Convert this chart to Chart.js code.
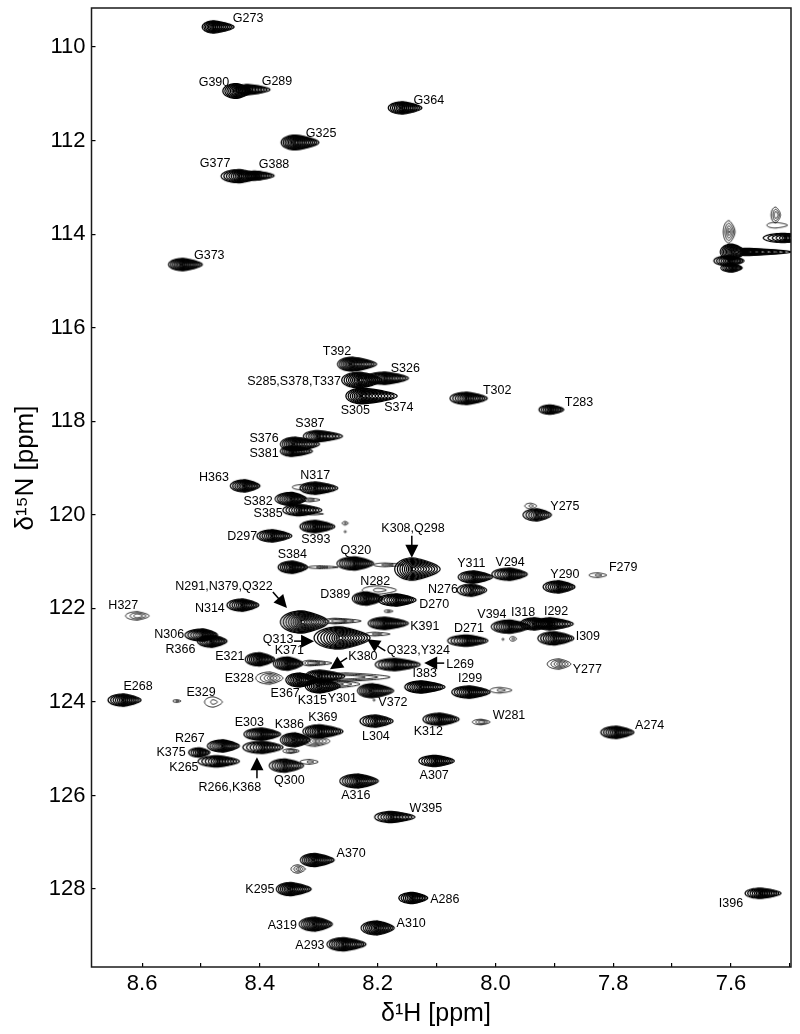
<!DOCTYPE html>
<html><head><meta charset="utf-8">
<style>html,body{margin:0;padding:0;background:#fff}canvas{display:block}</style>
<script src="https://cdn.jsdelivr.net/npm/chart.js@4"></script>
</head><body><canvas id="c" width="800" height="1034"></canvas>
<script>
// Peak positions (ppm), one-sided line widths (ppm) and number of contour levels
const peakH=[8.478,8.439,8.420,8.339,8.434,8.408,8.530,8.157,7.576,7.598,
7.602,7.598,7.603,7.508,7.524,7.524,8.243,8.230,8.187,8.225,
8.301,8.340,8.345,8.425,8.305,8.323,8.345,8.315,8.332,8.306,
8.305,8.255,8.255,8.378,8.344,8.298,8.238,8.187,8.140,8.036,
7.975,8.040,7.929,7.940,7.892,7.826,7.975,7.933,7.907,7.899,
8.047,7.987,7.970,7.892,8.043,7.992,8.199,8.218,8.167,8.182,
8.328,8.272,8.187,8.264,8.204,8.400,8.352,8.315,8.383,8.332,
8.298,8.298,8.255,8.281,8.209,8.125,8.170,8.203,8.094,8.024,
8.101,8.608,8.496,8.481,8.429,8.631,8.479,8.541,8.396,8.395,
8.340,8.298,8.306,8.347,8.357,8.315,8.462,8.502,8.471,8.233,
8.176,8.306,8.335,8.347,8.140,7.549,8.306,8.201,8.257,8.048,7.906,7.794,8.206];
const peakN=[109.57,110.94,110.91,112.04,112.76,112.75,114.65,111.30,114.38,114.38,
114.57,114.72,113.95,114.08,113.59,113.81,116.78,117.12,117.08,117.46,
118.32,118.49,118.64,119.38,119.43,119.41,119.66,119.68,119.90,119.98,
120.25,120.18,120.36,120.45,121.12,121.12,121.04,121.07,121.16,121.33,
121.27,121.61,120.00,119.81,121.54,121.29,122.39,122.33,122.33,122.64,
122.69,122.66,122.65,123.19,123.79,123.75,121.61,121.79,121.82,122.06,
122.29,122.27,122.32,122.63,122.55,123.09,123.18,123.17,123.49,123.53,
123.45,123.66,123.47,123.62,123.76,123.68,123.20,124.41,124.37,124.43,
125.26,122.16,122.57,122.70,121.93,123.96,124.00,123.98,124.69,124.97,
124.81,124.63,124.84,125.05,125.36,125.28,124.94,125.08,125.27,125.69,
126.46,127.38,127.57,128.00,128.19,128.09,128.75,128.83,129.18,117.51,117.75,124.65,123.96];
const peakWidthLeft=[.020,.024,.020,.025,.032,.017,.025,.025,.008,.020,
.027,.019,.010,.037,.008,.015,.025,.031,.034,.029,
.025,.025,.020,.025,.027,.022,.029,.014,.029,.017,
.027,.005,.002,.027,.025,.020,.031,.020,.031,.027,
.031,.025,.024,.010,.027,.015,.032,.025,.024,.029,
.034,.002,.006,.020,.031,.017,.027,.025,.032,.007,
.037,.020,.029,.044,.017,.025,.025,.014,.024,.024,
.025,.025,.025,.017,.025,.029,.034,.027,.029,.015,
.029,.020,.031,.025,.027,.027,.015,.007,.031,.034,
.025,.029,.022,.014,.027,.017,.027,.019,.034,.031,
.029,.025,.012,.025,.024,.027,.027,.027,.029,.029,.020,.027,.002];
const peakWidthRight=[.034,.024,.037,.039,.034,.032,.032,.032,.078,.022,
.024,.017,.010,.034,.008,.020,.041,.037,.039,.058,
.041,.041,.034,.025,.037,.022,.024,.017,.037,.014,
.032,.005,.002,.032,.025,.031,.031,.031,.046,.031,
.029,.025,.024,.010,.027,.015,.034,.034,.039,.032,
.034,.002,.006,.020,.034,.020,.031,.027,.032,.008,
.044,.044,.039,.051,.025,.025,.025,.037,.022,.031,
.042,.034,.076,.051,.036,.039,.042,.029,.032,.015,
.031,.020,.024,.025,.027,.029,.015,.007,.031,.034,
.025,.039,.025,.014,.031,.014,.027,.017,.036,.034,
.039,.032,.012,.034,.025,.034,.029,.029,.037,.034,.022,.029,.002];
const peakWidthN=[.13,.16,.11,.16,.14,.10,.13,.13,.08,.17,
.11,.09,.24,.10,.17,.06,.15,.17,.13,.17,
.12,.15,.11,.13,.13,.06,.14,.04,.12,.02,
.13,.04,.02,.13,.13,.03,.14,.04,.24,.13,
.13,.13,.13,.06,.13,.05,.14,.13,.13,.14,
.12,.02,.05,.11,.13,.06,.09,.14,.13,.03,
.24,.06,.13,.24,.04,.14,.14,.06,.13,.15,
.13,.15,.09,.09,.15,.13,.13,.13,.13,.06,
.12,.09,.13,.13,.13,.13,.11,.03,.13,.13,
.15,.14,.11,.05,.14,.05,.13,.10,.12,.15,
.12,.14,.09,.14,.12,.11,.15,.15,.14,.13,.10,.13,.02];
const peakLevels=[10,10,8,11,10,8,10,10,8,10,
9,8,5,7,3,1,10,11,9,11,
8,10,8,9,9,2,10,2,8,1,
10,2,1,9,10,2,10,2,10,9,
9,7,7,2,9,2,10,9,9,9,
9,1,2,5,10,2,2,10,9,2,
11,3,10,11,2,10,10,3,5,10,
9,10,3,3,10,10,9,8,9,3,
9,3,9,9,9,9,2,2,10,8,
10,10,5,3,8,2,9,7,8,10,
8,10,4,10,9,9,10,10,10,9,8,9,1];

// Assignment labels
const labelText=["G273","G390","G289","G325","G377","G388","G373","G364","T392","S326",
"S285,S378,T337","S305","S374","S387","S376","S381","H363","N317","S382","S385",
"D297","S393","S384","Q320","K308,Q298","Y311","V294","N282","D389","D270",
"N276","K391","D271","Q313","Q323,Y324","L269","K380","I383","I299","K371",
"E367","K315","Y301","V372","K369","K386","L304","K312","N291,N379,Q322","H327",
"N314","N306","R366","E321","E328","E268","E329","E303","R267","K375",
"K265","R266,K368","Q300","Y275","Y290","F279","V394","I318","I292","I309",
"Y277","W281","T302","T283","A274","A307","A316","W395","A370","K295",
"A286","I396","A319","A310","A293"];
const labelH=[8.420,8.478,8.371,8.296,8.476,8.376,8.486,8.113,8.269,8.153,
8.342,8.238,8.164,8.315,8.393,8.393,8.478,8.306,8.403,8.386,
8.430,8.305,8.345,8.237,8.140,8.041,7.975,8.204,8.272,8.104,
8.089,8.120,8.045,8.369,8.131,8.060,8.225,8.120,8.043,8.350,
8.357,8.311,8.260,8.174,8.293,8.350,8.203,8.114,8.461,8.632,
8.485,8.554,8.535,8.451,8.435,8.607,8.500,8.418,8.519,8.551,
8.529,8.451,8.350,7.882,7.882,7.783,8.006,7.953,7.897,7.843,
7.844,7.977,7.997,7.858,7.738,8.104,8.237,8.118,8.245,8.400,
8.086,7.600,8.362,8.143,8.315];
const labelN=[109.40,110.75,110.73,111.84,112.50,112.52,114.45,111.15,116.50,116.88,
117.16,117.78,117.70,118.04,118.38,118.68,119.21,119.15,119.71,119.98,
120.47,120.52,120.84,120.77,120.30,121.05,121.01,121.42,121.71,121.91,
121.59,122.38,122.44,122.66,122.91,123.19,123.04,123.40,123.51,122.91,
123.83,123.98,123.92,124.02,124.34,124.49,124.73,124.64,121.54,121.95,
122.01,122.55,122.87,123.02,123.51,123.68,123.79,124.43,124.79,125.09,
125.41,125.84,125.69,119.83,121.27,121.12,122.14,122.08,122.06,122.61,
123.30,124.30,117.35,117.61,124.51,125.58,126.01,126.27,127.25,128.02,
128.23,128.30,128.77,128.73,129.20];

// Arrows pointing at crowded peaks: tail and tip in ppm
const arrowTailH=[8.142,8.378,8.342,8.187,8.252,8.087,8.405];
const arrowTailN=[120.45,121.65,122.70,122.91,123.06,123.17,125.63];
const arrowTipH=[8.142,8.354,8.308,8.218,8.281,8.121,8.405];
const arrowTipN=[120.92,121.99,122.70,122.66,123.30,123.17,125.18];

const xTickLabels=["8.6","8.4","8.2","8.0","7.8","7.6"];
const yTickLabels=["110","112","114","116","118","120","122","124","126","128"];
const xTitle="δ¹H [ppm]";
const yTitle="δ¹⁵N [ppm]";

const FONT='"Liberation Sans", Arial, sans-serif';

function contourImage(L,R,B,lv){
  const W=2*Math.ceil(Math.max(L,R))+6, Hh=2*Math.ceil(B)+6;
  const cv=document.createElement('canvas');cv.width=W;cv.height=Hh;
  const g=cv.getContext('2d');
  g.translate(W/2,Hh/2);g.strokeStyle='#000';
  g.lineWidth=lv>=7?1.25:0.9;
  const tMin=lv<=3?0.45:0.1;
  const ex=lv>=7?0.75:1;
  for(let i=0;i<lv;i++){
    const t=lv===1?1:1-(1-tMin)*i/(lv-1);
    const tx=t, tyy=Math.pow(t,ex);
    g.beginPath();
    for(let a=0;a<=64;a++){
      const th=a/64*2*Math.PI, c=Math.cos(th), s=Math.sin(th);
      const u=Math.max(c,0);
      const px=(c>=0?R:L*Math.sqrt(t))*tx*c;
      const py=B*tyy*s*(1-0.36*u);
      if(a===0)g.moveTo(px,py);else g.lineTo(px,py);
    }
    g.closePath();g.stroke();
  }
  return cv;
}
const cache={};
function peakStyle(ctx){
  const i=ctx.dataIndex;
  if(i===undefined||!(i in peakLevels))return 'circle';
  if(cache[i])return cache[i];
  const sx=ctx.chart.scales.x, sy=ctx.chart.scales.y;
  if(!sx||!sy)return 'circle';
  const ppx=Math.abs(sx.getPixelForValue(8)-sx.getPixelForValue(7.9))/0.1;
  const ppy=Math.abs(sy.getPixelForValue(120)-sy.getPixelForValue(119));
  if(!(ppx>1)||!(ppy>1))return 'circle';
  return cache[i]=contourImage(peakWidthLeft[i]*ppx,peakWidthRight[i]*ppx,peakWidthN[i]*ppy,peakLevels[i]);
}

const overlay={
  id:'overlay',
  afterDatasetsDraw(chart){
    const {ctx,chartArea:a,scales:{x,y}}=chart;
    ctx.save();
    // labels
    ctx.fillStyle='#000';ctx.font='12.5px '+FONT;ctx.textAlign='center';ctx.textBaseline='middle';
    labelText.forEach((t,i)=>ctx.fillText(t,x.getPixelForValue(labelH[i]),y.getPixelForValue(labelN[i])));
    // arrows
    ctx.strokeStyle='#000';ctx.lineWidth=1.5;
    arrowTailH.forEach((_,i)=>{
      const x0=x.getPixelForValue(arrowTailH[i]),y0=y.getPixelForValue(arrowTailN[i]);
      const x1=x.getPixelForValue(arrowTipH[i]),y1=y.getPixelForValue(arrowTipN[i]);
      const ang=Math.atan2(y1-y0,x1-x0),hl=13,hw=6.5;
      ctx.beginPath();ctx.moveTo(x0,y0);ctx.lineTo(x1-Math.cos(ang)*hl*0.8,y1-Math.sin(ang)*hl*0.8);ctx.stroke();
      ctx.beginPath();ctx.moveTo(x1,y1);
      ctx.lineTo(x1-Math.cos(ang)*hl-Math.sin(ang)*hw,y1-Math.sin(ang)*hl+Math.cos(ang)*hw);
      ctx.lineTo(x1-Math.cos(ang)*hl+Math.sin(ang)*hw,y1-Math.sin(ang)*hl-Math.cos(ang)*hw);
      ctx.closePath();ctx.fill();
    });
    // frame
    ctx.strokeStyle='#1a1a1a';ctx.lineWidth=1.5;
    ctx.strokeRect(a.left,a.top,a.right-a.left,a.bottom-a.top);
    // axis titles
    ctx.fillStyle='#000';ctx.textAlign='center';ctx.textBaseline='middle';
    ctx.font='25px '+FONT;
    ctx.fillText(xTitle,436,1014);
    ctx.font='26px '+FONT;
    ctx.translate(26,468);ctx.rotate(-Math.PI/2);
    ctx.fillText(yTitle,0,0);
    ctx.restore();
  }
};

new Chart(document.getElementById('c'),{
  type:'scatter',
  data:{datasets:[{
    label:'1H-15N HSQC peaks',
    data:peakH.map((h,i)=>({x:h,y:peakN[i]})),
    pointStyle:peakStyle,pointRadius:3,pointBorderWidth:0,
    backgroundColor:'#000',borderColor:'#000'
  }]},
  options:{
    responsive:false,animation:false,events:[],
    layout:{padding:{top:8,right:9,left:0,bottom:0}},
    plugins:{legend:{display:false},tooltip:{enabled:false},title:{display:false}},
    scales:{
      x:{type:'linear',reverse:true,min:7.498,max:8.686,position:'bottom',
        afterFit(s){s.height=67;s.paddingLeft=0;s.paddingRight=0;},
        border:{display:false},
        grid:{drawOnChartArea:false,drawTicks:true,tickLength:-4,color:'#000',lineWidth:1.2},
        ticks:{stepSize:0.1,includeBounds:false,maxRotation:0,autoSkip:false,padding:8,color:'#000',
          font:{family:FONT,size:22},
          callback(v){const t=Number(v).toFixed(1);return xTickLabels.includes(t)?t:'';}}},
      y:{type:'linear',reverse:true,min:109.166,max:129.666,position:'left',
        afterFit(s){s.width=91.5;s.paddingTop=0;s.paddingBottom=0;},
        border:{display:false},
        grid:{drawOnChartArea:false,drawTicks:true,tickLength:-4,color:'#000',lineWidth:1.2},
        ticks:{stepSize:2,includeBounds:false,autoSkip:false,padding:10,color:'#000',
          font:{family:FONT,size:22},
          callback(v){const t=String(Math.round(v));return yTickLabels.includes(t)?t:'';}}}
    }
  },
  plugins:[overlay]
});
</script></body></html>
